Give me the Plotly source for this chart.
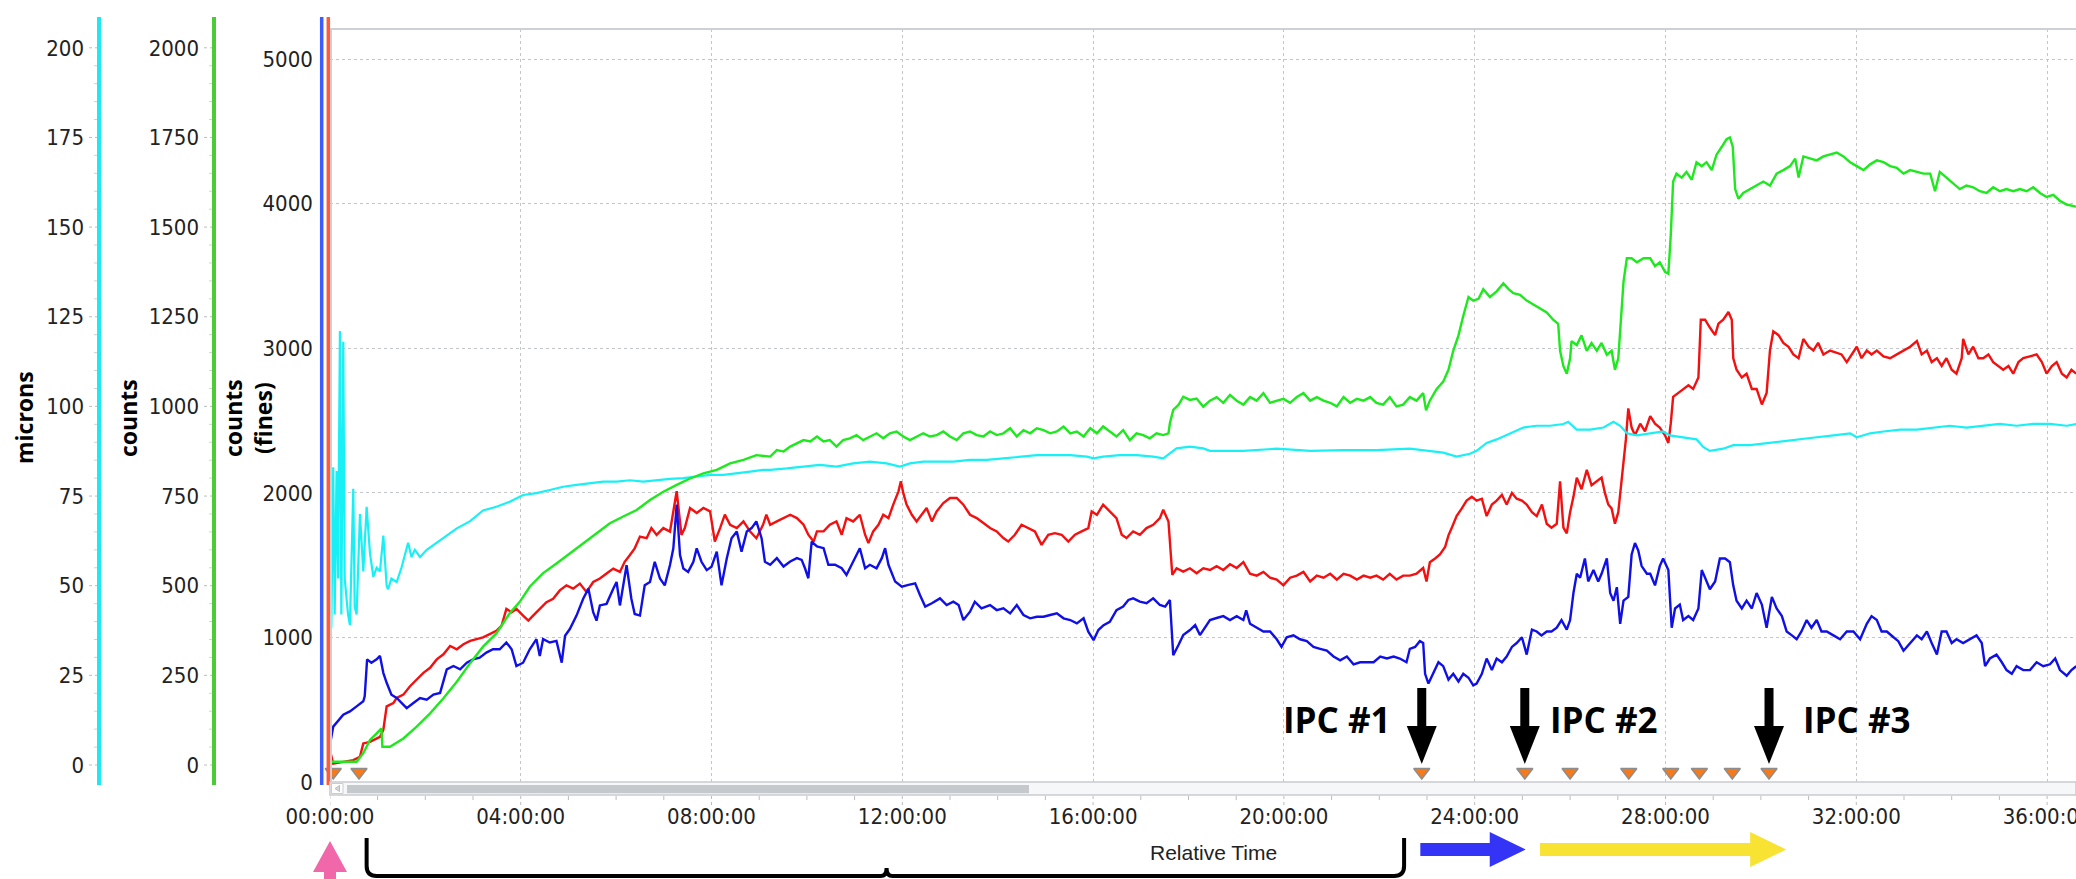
import plotly.graph_objects as go

# ---------------- data (time in hours) ----------------
blue_t = [0.00,0.07,0.28,0.42,0.56,0.70,0.73,0.78,0.87,0.98,1.05,1.12,1.19,1.29,1.40,1.50,1.61,1.75,1.89,2.03,2.17,2.31,2.45,2.59,2.73,2.87,3.00,3.14,3.28,3.42,3.56,3.70,3.81,3.91,4.05,4.19,4.33,4.40,4.47,4.61,4.75,4.86,4.93,5.03,5.17,5.31,5.42,5.52,5.59,5.66,5.80,5.94,6.01,6.08,6.22,6.32,6.39,6.50,6.60,6.71,6.81,6.92,7.02,7.13,7.20,7.27,7.34,7.41,7.51,7.62,7.69,7.79,7.90,8.00,8.11,8.21,8.32,8.42,8.53,8.63,8.74,8.84,8.94,9.05,9.12,
          9.23,9.37,9.51,9.65,9.79,9.89,9.96,10.03,10.10,10.21,10.35,10.45,10.59,10.73,10.83,10.94,11.04,11.11,11.22,11.32,11.46,11.57,11.64,11.71,11.85,11.99,12.13,12.27,12.37,12.48,12.62,12.79,12.93,13.07,13.18,13.28,13.42,13.52,13.66,13.84,13.98,14.12,14.26,14.40,14.54,14.68,14.82,14.96,15.10,15.24,15.38,15.52,15.66,15.80,15.90,16.01,16.11,16.22,16.35,16.49,16.63,16.74,16.84,16.98,17.12,17.26,17.40,17.51,17.61,17.65,17.68,17.79,17.89,18.03,18.14,18.24,18.35,
          18.45,18.59,18.73,18.87,19.01,19.15,19.21,19.29,19.43,19.57,19.71,19.85,19.95,20.06,20.20,20.34,20.48,20.62,20.76,20.90,21.04,21.18,21.32,21.46,21.60,21.74,21.88,22.02,22.16,22.30,22.43,22.57,22.64,22.75,22.85,22.92,22.96,23.03,23.13,23.24,23.34,23.45,23.55,23.66,23.76,23.87,23.97,24.04,24.15,24.25,24.36,24.46,24.57,24.67,24.78,24.88,24.99,25.09,25.20,25.30,25.40,25.51,25.61,25.72,25.82,25.93,26.00,26.07,26.14,26.21,26.31,26.38,26.49,26.59,26.66,26.77,26.84,26.91,26.98,27.05,27.12,27.22,27.29,27.36,27.43,27.50,27.61,
          27.68,27.78,27.88,27.95,28.06,28.13,28.20,28.30,28.37,28.48,28.58,28.69,28.76,28.83,28.93,29.04,29.14,29.25,29.35,29.42,29.49,29.60,29.70,29.81,29.91,30.02,30.12,30.23,30.33,30.44,30.54,30.65,30.75,30.85,30.96,31.06,31.17,31.27,31.38,31.52,31.66,31.80,31.94,32.08,32.22,32.32,32.43,32.53,32.64,32.78,32.88,32.99,33.13,33.27,33.37,33.48,33.58,33.69,33.79,33.89,34.00,34.10,34.24,34.38,34.52,34.63,34.70,34.80,34.94,35.05,35.15,35.26,35.36,35.50,35.64,35.78,35.92,36.06,36.17,36.27,36.41,36.51,36.61]
blue_v = [255,383,465,488,523,558,593,848,825,848,872,755,686,604,581,546,511,546,581,569,604,616,779,802,779,825,848,860,895,918,918,965,918,802,825,918,988,872,988,965,976,825,1011,1058,1151,1267,1337,1174,1116,1221,1232,1337,1383,1221,1500,1267,1162,1151,1360,1383,1523,1407,1360,1500,1616,1918,1570,1476,1453,1523,1616,1523,1465,1488,1593,1360,1546,1686,1732,1593,1732,1756,1802,1686,1523,
          1502,1548,1490,1525,1548,1536,1478,1409,1663,1629,1617,1502,1502,1478,1432,1502,1571,1617,1478,1502,1478,1548,1617,1502,1386,1351,1363,1374,1293,1213,1236,1270,1224,1247,1224,1120,1178,1247,1201,1224,1189,1201,1166,1224,1155,1132,1143,1143,1155,1166,1132,1120,1097,1132,1039,981,1051,1085,1108,1189,1213,1259,1270,1247,1236,1270,1224,1213,1259,1016,877,947,1016,1051,1085,1016,1074,
          1120,1134,1147,1120,1147,1120,1187,1094,1067,1041,1041,987,934,1001,1014,987,974,934,921,908,868,841,868,814,828,828,828,868,854,868,854,828,921,934,974,961,748,681,748,828,801,708,748,695,748,721,668,681,748,854,774,854,828,868,934,961,1001,881,1054,1041,1014,1041,1041,1067,1120,1054,1120,1307,1440,1413,1546,1387,1466,1387,1440,1546,1307,1254,1347,1094,1254,1280,1573,1653,1600,1493,1440,
          1440,1360,1493,1546,1466,1067,1200,1227,1120,1147,1120,1200,1466,1413,1333,1387,1546,1546,1520,1360,1254,1200,1254,1200,1307,1227,1067,1280,1200,1147,1041,1014,987,1041,1120,1067,1120,1041,1041,1014,987,1041,1041,987,1094,1147,1120,1041,1041,1001,974,908,961,1014,987,1041,961,881,1041,1041,961,987,961,987,1014,961,801,854,881,828,774,748,801,774,774,828,801,814,854,774,735,774,801]

red_t = [0.00,0.07,0.28,0.49,0.63,0.70,0.84,1.05,1.12,1.19,1.33,1.40,1.54,1.68,1.82,1.96,2.10,2.24,2.38,2.52,2.66,2.80,2.94,3.07,3.21,3.35,3.49,3.60,3.70,3.81,3.91,4.05,4.16,4.26,4.40,4.54,4.68,4.82,4.96,5.10,5.24,5.38,5.52,5.66,5.80,5.94,6.08,6.18,6.29,6.39,6.50,6.64,6.74,6.85,6.99,7.13,7.27,7.37,7.44,7.55,7.69,7.83,7.97,8.07,8.18,8.28,8.39,8.53,8.67,8.81,8.94,9.08,9.15,
         9.23,9.37,9.51,9.65,9.79,9.93,10.03,10.14,10.21,10.35,10.48,10.62,10.73,10.83,10.97,11.11,11.22,11.29,11.39,11.50,11.60,11.71,11.81,11.92,11.97,12.02,12.09,12.20,12.30,12.41,12.51,12.62,12.72,12.86,13.00,13.14,13.28,13.42,13.56,13.70,13.84,13.98,14.12,14.22,14.36,14.50,14.64,14.78,14.92,15.06,15.20,15.34,15.48,15.62,15.76,15.90,15.97,16.08,16.21,16.35,16.49,16.60,16.70,16.84,16.98,17.12,17.26,17.40,17.47,17.58,17.63,17.66,17.75,17.89,18.03,18.17,18.31,
         18.45,18.59,18.73,18.87,19.01,19.15,19.29,19.43,19.57,19.71,19.85,19.99,20.13,20.27,20.41,20.55,20.69,20.83,20.97,21.11,21.25,21.39,21.53,21.67,21.81,21.94,22.08,22.22,22.36,22.50,22.64,22.78,22.92,22.99,23.06,23.17,23.27,23.38,23.45,23.52,23.62,23.73,23.83,23.94,24.04,24.15,24.25,24.36,24.46,24.57,24.67,24.78,24.88,24.99,25.09,25.20,25.30,25.41,25.51,25.61,25.72,25.79,25.86,25.93,26.00,26.07,26.14,26.24,26.35,26.45,26.56,26.66,26.73,26.80,26.87,26.94,27.01,27.06,27.12,27.17,27.22,27.29,27.36,27.47,27.57,
         27.68,27.78,27.88,27.99,28.06,28.11,28.16,28.27,28.37,28.48,28.58,28.69,28.74,28.83,28.93,29.04,29.11,29.21,29.32,29.39,29.42,29.49,29.60,29.70,29.81,29.91,30.02,30.12,30.19,30.26,30.37,30.47,30.58,30.68,30.79,30.89,31.00,31.10,31.20,31.31,31.45,31.59,31.69,31.80,31.90,32.01,32.11,32.22,32.32,32.43,32.57,32.71,32.85,32.99,33.13,33.27,33.37,33.48,33.58,33.69,33.79,33.89,34.00,34.10,34.21,34.24,34.35,34.45,34.56,34.66,34.77,34.87,34.98,35.08,35.19,35.29,35.40,35.50,35.64,35.78,35.89,35.99,36.10,36.20,36.31,36.41,36.51,36.61]
red_v = [220,127,139,151,174,267,278,313,360,523,546,581,604,662,709,755,790,848,883,941,918,953,976,988,1000,1023,1046,1081,1197,1174,1197,1151,1116,1151,1197,1244,1267,1325,1360,1337,1372,1314,1383,1407,1442,1476,1453,1523,1570,1616,1697,1686,1756,1709,1756,1732,2011,1709,1756,1895,1860,1895,1872,1663,1756,1849,1779,1756,1802,1732,1686,1779,1849,
         1779,1802,1825,1848,1825,1779,1710,1663,1733,1733,1779,1802,1710,1825,1802,1848,1710,1652,1733,1779,1848,1825,1918,2010,2080,1999,1918,1848,1802,1848,1895,1802,1871,1929,1964,1964,1918,1848,1825,1791,1756,1733,1687,1663,1710,1779,1756,1733,1640,1710,1721,1710,1663,1710,1733,1756,1871,1848,1918,1871,1825,1710,1687,1733,1710,1756,1779,1825,1883,1802,1594,1432,1478,1455,1478,1444,1478,
         1466,1493,1466,1506,1480,1520,1440,1427,1453,1413,1400,1360,1413,1427,1453,1387,1427,1413,1440,1400,1440,1427,1400,1427,1413,1427,1400,1440,1400,1427,1427,1440,1480,1387,1520,1546,1573,1626,1706,1759,1839,1892,1946,1972,1946,1959,1839,1919,1946,1986,1919,1999,1959,1946,1919,1866,1839,1919,1786,1759,1786,2079,1759,1719,1866,1972,2105,2025,2159,2052,2079,2105,1999,1919,1892,1786,1866,2025,2185,2371,2584,2451,2398,2478,2425,
         2531,2478,2451,2398,2345,2478,2664,2691,2718,2744,2718,2797,3197,3197,3143,3090,3170,3197,3250,3197,2931,2851,2797,2824,2718,2718,2611,2691,2984,3117,3090,3037,3010,2957,2931,3064,3010,2984,3037,2957,2984,2971,2957,2904,2957,3010,2931,2984,2957,2984,2944,2931,2957,2984,3010,3050,2957,2984,2904,2931,2877,2931,2851,2824,2931,3064,2957,3010,2931,2931,2957,2904,2877,2851,2877,2824,2904,2931,2944,2957,2904,2824,2877,2904,2824,2797,2851,2824]

green_t = [0.00,0.56,0.70,0.84,0.98,1.08,1.10,1.26,1.54,1.82,2.10,2.38,2.66,2.94,3.21,3.49,3.77,3.98,4.19,4.47,4.75,5.03,5.31,5.59,5.87,6.15,6.43,6.71,6.99,7.27,7.55,7.83,8.11,8.39,8.67,8.94,
           9.23,9.37,9.51,9.65,9.79,9.93,10.07,10.21,10.35,10.48,10.62,10.76,10.90,11.04,11.18,11.32,11.46,11.60,11.74,11.88,12.02,12.16,12.30,12.44,12.58,12.72,12.86,13.00,13.14,13.28,13.42,13.56,13.70,13.84,13.98,14.12,14.26,14.40,14.54,14.68,14.82,14.96,15.10,15.24,15.38,15.52,15.66,15.80,15.94,16.08,16.21,16.35,16.49,16.63,16.77,16.91,17.05,17.19,17.33,17.47,17.58,17.61,17.68,17.79,17.89,18.03,18.17,18.31,
           18.45,18.59,18.73,18.87,19.01,19.15,19.29,19.43,19.57,19.71,19.85,19.99,20.13,20.27,20.41,20.55,20.69,20.83,20.97,21.11,21.25,21.39,21.53,21.67,21.81,21.94,22.08,22.22,22.36,22.50,22.64,22.78,22.92,22.98,23.06,23.20,23.34,23.45,23.55,23.66,23.76,23.87,23.97,24.08,24.18,24.32,24.46,24.60,24.71,24.81,24.95,25.09,25.23,25.37,25.51,25.65,25.75,25.79,25.86,25.93,26.00,26.03,26.14,26.24,26.35,26.45,26.56,26.66,26.77,26.87,26.94,27.01,27.06,27.12,27.19,27.29,27.40,27.54,
           27.68,27.78,27.88,27.99,28.06,28.11,28.16,28.23,28.34,28.44,28.55,28.65,28.76,28.86,28.97,29.07,29.18,29.28,29.35,29.41,29.46,29.53,29.63,29.77,29.91,30.05,30.19,30.33,30.47,30.61,30.72,30.79,30.89,31.03,31.17,31.31,31.45,31.59,31.73,31.87,32.01,32.15,32.29,32.43,32.57,32.71,32.85,32.99,33.13,33.27,33.41,33.55,33.65,33.75,33.89,34.03,34.17,34.31,34.45,34.59,34.73,34.87,35.01,35.15,35.29,35.43,35.57,35.71,35.85,35.99,36.13,36.27,36.41,36.61]
green_c = [9,9,33,70,88,102,51,51,74,107,144,186,232,284,330,367,423,455,497,535,562,590,618,646,674,693,711,739,762,781,799,813,823,841,851,864,
           860,878,874,888,897,906,902,916,902,906,888,906,911,920,906,916,925,911,925,930,916,906,916,925,916,920,930,916,906,925,930,920,916,930,920,925,939,916,934,925,939,934,925,930,944,925,930,916,939,925,944,930,916,934,906,925,920,911,925,920,925,953,990,1004,1027,1018,1022,999,
           1016,1026,1010,1032,1016,1005,1026,1016,1037,1010,1016,1021,1010,1026,1037,1016,1026,1016,1010,1000,1026,1010,1021,1016,1026,1010,1005,1026,1000,1005,1026,1016,1037,989,1016,1048,1069,1102,1155,1198,1252,1305,1295,1300,1327,1305,1321,1343,1327,1316,1311,1295,1284,1273,1262,1241,1230,1155,1112,1091,1134,1182,1171,1198,1155,1177,1155,1177,1144,1155,1102,1134,1230,1348,1413,1413,1402,1413,
           1413,1391,1402,1375,1370,1477,1627,1649,1638,1654,1632,1681,1670,1681,1659,1702,1724,1745,1750,1724,1606,1579,1595,1606,1616,1627,1616,1649,1659,1670,1691,1638,1697,1691,1686,1697,1702,1708,1697,1681,1670,1659,1675,1686,1681,1670,1665,1649,1659,1654,1649,1649,1600,1654,1638,1622,1606,1616,1611,1600,1595,1611,1600,1606,1600,1606,1600,1611,1595,1584,1590,1573,1563,1557]

cyan_t = [0.00,0.03,0.07,0.10,0.14,0.17,0.21,0.24,0.28,0.31,0.38,0.42,0.49,0.52,0.56,0.63,0.70,0.77,0.84,0.91,0.98,1.05,1.12,1.19,1.22,1.29,1.40,1.50,1.64,1.71,1.78,1.89,2.03,2.24,2.45,2.66,2.94,3.21,3.49,3.77,4.05,4.33,4.61,4.89,5.17,5.45,5.73,6.01,6.29,6.57,6.85,7.13,7.41,7.69,7.97,8.25,8.53,8.81,9.08,
          9.23,9.58,9.93,10.27,10.62,10.97,11.32,11.67,11.95,12.16,12.44,12.72,13.07,13.42,13.77,14.12,14.47,14.82,15.17,15.52,15.87,16.01,16.21,16.56,16.91,17.26,17.47,17.61,17.75,18.03,18.31,
          18.45,19.15,19.85,20.55,21.25,21.94,22.64,22.99,23.34,23.62,23.90,24.04,24.25,24.46,24.74,25.02,25.30,25.58,25.86,25.96,26.14,26.42,26.70,26.91,27.05,27.19,27.40,
          27.68,27.95,28.09,28.37,28.65,28.79,28.93,29.21,29.42,29.77,30.12,30.47,30.82,31.17,31.52,31.87,32.01,32.29,32.57,32.92,33.27,33.61,33.96,34.31,34.66,35.01,35.36,35.71,36.06,36.41,36.61]
cyan_m = [36,38.6,83,42,82,52,121,42,118,52,42,39,77,44,42,70,54,72,59,52.5,55,54,64,50,49,52,51,55,62,58,60,58,60,62,64,66,68,71,72,73.4,75.3,75.8,76.7,77.6,78.1,78.5,79,79,79.4,79,79.5,79.8,80,80.4,80.9,80.9,81.3,81.8,82.3,
          82.3,82.7,83.2,83.7,83.2,84.1,84.6,84.1,83.2,84.1,84.6,84.6,84.6,85.1,85.1,85.5,86.0,86.4,86.4,86.4,86.0,85.5,86.0,86.4,86.4,86.0,85.5,86.9,88.3,88.8,88.3,
          87.6,87.6,88.2,87.6,87.8,87.8,88.2,87.6,87.1,86.0,86.8,87.6,89.8,90.8,92.5,94.1,94.6,94.6,95.1,95.7,93.5,93.5,94.1,95.7,94.6,92.5,91.9,
          92.5,93.0,91.9,91.4,90.8,88.7,87.6,88.2,89.2,89.2,89.8,90.3,90.8,91.4,91.9,92.5,91.4,92.5,93.0,93.5,93.5,94.1,94.6,94.1,94.6,95.1,94.6,95.1,95.1,94.6,95.1]

event_t = [0.07, 0.61, 22.89, 25.05, 26.00, 27.23, 28.11, 28.71, 29.40, 30.17]
event_level = 69
ipc_t = [22.89, 25.05, 30.17]
ipc_text = ["IPC #1", "IPC #2", "IPC #3"]
hour_ticks = list(range(0, 37, 4))
hour_text = [f"{h:02d}:00:00" for h in hour_ticks]
minor_hours = [h for h in range(0, 37) if h % 4]
micron_ticks = list(range(0, 201, 25))
micron_minor = [m for m in range(0, 201, 5) if m % 25]
count_ticks = list(range(0, 2001, 250))
count_minor = [c for c in range(0, 2001, 50) if c % 250]
fines_ticks = list(range(0, 5001, 1000))

# ---------------- geometry helpers (pixels -> paper) ----------------
W, H = 2076, 879
def pxx(px):
    return px / W
def pxy(py):
    return 1 - py / H

PLOT_L, PLOT_T, PLOT_B = 329.9, 29, 782
HOUR_PX = 47.7
x_max = (W - PLOT_L) / HOUR_PX

NARROW = "Liberation Sans Narrow, Arial Narrow, DejaVu Sans Condensed, sans-serif"
BOLD = "Open Sans, Liberation Sans, sans-serif"
tick_font = dict(family=NARROW, size=22, color="#222222")
GRID = "#c3c7cc"
TICK = "#b9bdc1"
LW = 2.4

fig = go.Figure()
fig.add_trace(go.Scatter(x=cyan_t, y=cyan_m, yaxis="y2", mode="lines",
                         line=dict(color="#19f0f5", width=2.2), hoverinfo="skip"))
fig.add_trace(go.Scatter(x=green_t, y=green_c, yaxis="y3", mode="lines",
                         line=dict(color="#1ee81e", width=LW), hoverinfo="skip"))
fig.add_trace(go.Scatter(x=red_t, y=red_v, mode="lines",
                         line=dict(color="#f21010", width=LW), hoverinfo="skip"))
fig.add_trace(go.Scatter(x=blue_t, y=blue_v, mode="lines",
                         line=dict(color="#1010e6", width=LW), hoverinfo="skip"))
fig.add_trace(go.Scatter(x=event_t, y=[event_level] * len(event_t), mode="markers",
                         marker=dict(symbol="triangle-down", size=14, color="#f47a1c",
                                     line=dict(color="#8d8d8d", width=1.5)),
                         hoverinfo="skip", cliponaxis=False))

side_axis = dict(overlaying="y", anchor="free", side="left", tickmode="array",
                 tickfont=tick_font, ticks="", showgrid=False, zeroline=False,
                 showline=False, ticklabelstandoff=15, automargin=False)

fig.update_layout(
    template="none",
    width=W, height=H, margin=dict(l=0, r=0, t=0, b=0, pad=0, autoexpand=False),
    paper_bgcolor="white", plot_bgcolor="white", showlegend=False,
    xaxis=dict(domain=[pxx(PLOT_L), 1], range=[0, x_max], tickmode="array",
               tickvals=hour_ticks, ticktext=hour_text, tickfont=tick_font,
               ticks="", showgrid=True, gridcolor=GRID, griddash="dot", gridwidth=1,
               zeroline=False, showline=False, ticklabelstandoff=19,
               ticklabeloverflow="allow", automargin=False),
    yaxis=dict(domain=[pxy(PLOT_B), pxy(PLOT_T)], range=[0, (PLOT_B - PLOT_T) / 0.1446],
               tickmode="array", tickvals=fines_ticks, tickfont=tick_font,
               ticks="", showgrid=True, gridcolor=GRID, griddash="dot",
               zeroline=False, showline=False, ticklabelstandoff=16, automargin=False),
    yaxis2=dict(side_axis, position=pxx(99), tickvals=micron_ticks,
                range=[(765 - PLOT_B) / 3.586, (765 - PLOT_T) / 3.586]),
    yaxis3=dict(side_axis, position=pxx(214), tickvals=count_ticks,
                range=[(765 - PLOT_B) / 0.3586, (765 - PLOT_T) / 0.3586]),
)

shapes = []
# tick marks along the time axis, below the scrollbar
for h in hour_ticks:
    shapes.append(dict(type="line", xref="x", yref="paper", x0=h, x1=h, y0=pxy(796), y1=pxy(807),
                       line=dict(color=TICK, width=1, dash="dot")))
for h in minor_hours:
    shapes.append(dict(type="line", xref="x", yref="paper", x0=h, x1=h, y0=pxy(796), y1=pxy(800),
                       line=dict(color=TICK, width=1)))
# tick marks on the two left value axes
for yref, major, minor, xline in [("y2", micron_ticks, micron_minor, 99),
                                  ("y3", count_ticks, count_minor, 214)]:
    for v in major:
        shapes.append(dict(type="line", xref="paper", yref=yref, x0=pxx(xline - 10), x1=pxx(xline - 2),
                           y0=v, y1=v, line=dict(color=TICK, width=1, dash="dot")))
    for v in minor:
        shapes.append(dict(type="line", xref="paper", yref=yref, x0=pxx(xline - 5), x1=pxx(xline - 2),
                           y0=v, y1=v, line=dict(color="#cfd2d5", width=1)))

# plot frame (top and left) and coloured axis bars
shapes.append(dict(type="line", xref="paper", yref="paper", x0=pxx(PLOT_L), x1=1,
                   y0=pxy(PLOT_T), y1=pxy(PLOT_T), line=dict(color="#cdd0d4", width=2)))
shapes.append(dict(type="line", xref="paper", yref="paper", x0=pxx(331), x1=pxx(331),
                   y0=pxy(PLOT_T), y1=pxy(PLOT_B), line=dict(color="#cdd0d4", width=2)))
for xpx, col in [(99, "#1ee9f0"), (214, "#4ccb38"), (321.7, "#3b5dff"), (328.3, "#ff5a3a")]:
    shapes.append(dict(type="line", xref="paper", yref="paper", x0=pxx(xpx), x1=pxx(xpx),
                       y0=pxy(17), y1=pxy(785), line=dict(color=col, width=4 if xpx < 300 else 3.5)))
# scrollbar under the plot area
shapes.append(dict(type="rect", xref="paper", yref="paper", x0=pxx(PLOT_L), x1=1,
                   y0=pxy(795), y1=pxy(782), fillcolor="#f6f7f8",
                   line=dict(color="#c9ccd0", width=1.5), layer="above"))
shapes.append(dict(type="rect", xref="paper", yref="paper", x0=pxx(331.5), x1=pxx(343),
                   y0=pxy(793.5), y1=pxy(783.5), fillcolor="#ffffff",
                   line=dict(color="#c9ccd0", width=1), layer="above"))
shapes.append(dict(type="path", xref="paper", yref="paper",
                   path=f"M {pxx(339.5)},{pxy(785.5)} L {pxx(335)},{pxy(788.5)} L {pxx(339.5)},{pxy(791.5)} Z",
                   fillcolor="#d5d7da", line=dict(color="#b9bcc0", width=1), layer="above"))
shapes.append(dict(type="rect", xref="paper", yref="paper", x0=pxx(347), x1=pxx(1029),
                   y0=pxy(793.3), y1=pxy(785), fillcolor="#c5c8cc", line=dict(width=0),
                   layer="above"))

# IPC arrows pointing at the event markers
shaft_half, head_half = 4.5 / HOUR_PX, 15 / HOUR_PX
for t in ipc_t:
    shapes.append(dict(type="rect", xref="x", yref="paper", x0=t - shaft_half, x1=t + shaft_half,
                       y0=pxy(727), y1=pxy(688), fillcolor="black", line=dict(width=0)))
    shapes.append(dict(type="path", xref="x", yref="paper",
                       path=f"M {t - head_half},{pxy(726)} L {t + head_half},{pxy(726)} L {t},{pxy(764)} Z",
                       fillcolor="black", line=dict(width=0)))

# pink start arrow at the time origin
cx = 330
shapes.append(dict(type="path", xref="paper", yref="paper",
                   path=(f"M {pxx(cx)},{pxy(841)} L {pxx(cx + 17)},{pxy(872)} L {pxx(cx + 6)},{pxy(872)} "
                         f"L {pxx(cx + 6)},{pxy(880)} L {pxx(cx - 6)},{pxy(880)} L {pxx(cx - 6)},{pxy(872)} "
                         f"L {pxx(cx - 17)},{pxy(872)} Z"),
                   fillcolor="#f068aa", line=dict(width=0)))

# bracket spanning the first phase
bx0, bxm, bx1 = 0.77, 11.67, 22.52
r = 10 / HOUR_PX
n = 6 / HOUR_PX
yb, ytop = pxy(876), pxy(838)
shapes.append(dict(type="path", xref="x", yref="paper",
                   path=(f"M {bx0},{ytop} L {bx0},{pxy(866)} Q {bx0},{yb} {bx0 + r},{yb} "
                         f"L {bxm - n},{yb} Q {bxm},{yb} {bxm},{pxy(868)} Q {bxm},{yb} {bxm + n},{yb} "
                         f"L {bx1 - r},{yb} Q {bx1},{yb} {bx1},{pxy(866)} L {bx1},{ytop}"),
                   line=dict(color="black", width=4)))

# blue and yellow phase arrows
def block_arrow(x0, x1, color):
    head = 36 / HOUR_PX
    return dict(type="path", xref="x", yref="paper",
                path=(f"M {x0},{pxy(843)} L {x1 - head},{pxy(843)} L {x1 - head},{pxy(832)} "
                      f"L {x1},{pxy(849.5)} L {x1 - head},{pxy(867)} L {x1 - head},{pxy(856)} "
                      f"L {x0},{pxy(856)} Z"),
                fillcolor=color, line=dict(width=0))
shapes.append(block_arrow(22.86, 25.07, "#3434f6"))
shapes.append(block_arrow(25.37, 30.53, "#f8e232"))

fig.update_layout(shapes=shapes)

ann = []
title_font = dict(family=BOLD, size=23, color="black")
ann.append(dict(xref="paper", yref="paper", x=pxx(24), y=pxy(418), text="<b>microns</b>",
                textangle=-90, showarrow=False, font=title_font, xanchor="center", yanchor="middle"))
ann.append(dict(xref="paper", yref="paper", x=pxx(128), y=pxy(418), text="<b>counts</b>",
                textangle=-90, showarrow=False, font=title_font, xanchor="center", yanchor="middle"))
ann.append(dict(xref="paper", yref="paper", x=pxx(248), y=pxy(418), text="<b>counts<br>(fines)</b>",
                textangle=-90, showarrow=False, font=title_font, xanchor="center", yanchor="middle"))
ann.append(dict(xref="paper", yref="paper", x=pxx(1213), y=pxy(852), text="Relative Time",
                showarrow=False, font=dict(family="Liberation Sans, Arial, sans-serif", size=21, color="#222222"),
                xanchor="center", yanchor="middle"))
ipc_font = dict(family=BOLD, size=35, color="black")
offsets = [(-29, "right"), (23, "left"), (32, "left")]
for t, txt, (off, anchor) in zip(ipc_t, ipc_text, offsets):
    ann.append(dict(xref="x", yref="paper", x=t + off / HOUR_PX, y=pxy(719), text=f"<b>{txt}</b>",
                    showarrow=False, font=ipc_font, xanchor=anchor, yanchor="middle"))
fig.update_layout(annotations=ann)

fig.write_html("out.html")
